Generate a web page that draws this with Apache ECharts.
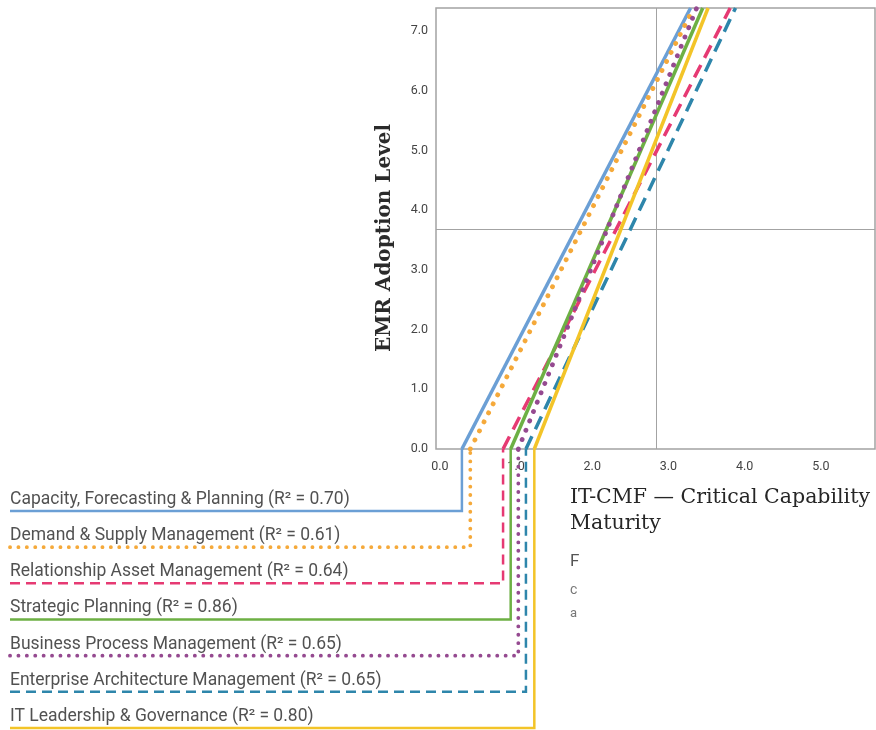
<!DOCTYPE html>
<html>
<head>
<meta charset="utf-8">
<script src="https://cdn.jsdelivr.net/npm/echarts@6/dist/echarts.min.js"></script>
<style>html,body{margin:0;padding:0;background:#fff;}#c{width:876px;height:730px;}</style>
</head>
<body>
<div id="c"></div>
<script>
// ---- data ----
const categories = ['Capacity, Forecasting & Planning','Demand & Supply Management','Relationship Asset Management','Strategic Planning','Business Process Management','Enterprise Architecture Management','IT Leadership & Governance'];
const rSquared = [0.70, 0.61, 0.64, 0.86, 0.65, 0.65, 0.80];
const xAtZero = [0.29, 0.40, 0.83, 0.93, 1.03, 1.13, 1.24];   // x where each fit line meets EMR = 0
const xAtTop  = [3.29, 3.33, 3.81, 3.45, 3.37, 3.88, 3.52];   // x where each fit line meets the top of the plot
const xTicks = [0, 1, 2, 3, 4, 5];
const yTicks = [0, 1, 2, 3, 4, 5, 6, 7];
const refX = 2.84;
const refY = 3.69;

// ---- styles ----
const colors = ['#6b9fd5','#f5a93a','#e63a73','#6db044','#954a90','#2e86ab','#f3c428'];
const kinds  = ['solid','dotted','dashed','solid','dotted','dashed','solid'];

// ---- layout ----
const xMin = -0.05, xMax = 5.71, yMax = 7.39;
const g1 = {left:436, top:8, width:439, height:441};
const g2 = {left:10, top:511, width:865, height:217};
const k = g1.width / (xMax - xMin);
const x2Min = xMin - (g1.left - g2.left) / k;
const rowStep = g2.height / (categories.length - 1);
const rowAtPlotBottom = (g1.top + g1.height - g2.top) / rowStep;

function plotStyle(i){
  const s = {color: colors[i], width: 3.5, cap: 'butt'};
  if (kinds[i] === 'dotted'){ s.type = [0.1, 10]; s.cap = 'round'; s.width = 4.8; }
  if (kinds[i] === 'dashed'){ s.type = [14, 8]; }
  return s;
}
function legStyle(i){
  const s = {color: colors[i], width: 2.5, cap: 'butt', join: 'miter'};
  if (kinds[i] === 'dotted'){ s.type = [0.1, 8.3]; s.cap = 'round'; s.width = 3.8; }
  if (kinds[i] === 'dashed'){ s.type = [10, 6]; }
  return s;
}

const series = [];
categories.forEach((name, i) => {
  series.push({
    type:'line', name: name + ' fit', xAxisIndex:0, yAxisIndex:0, symbol:'none', z:5,
    lineStyle: plotStyle(i), silent:true,
    data: [[xAtZero[i], 0], [xAtTop[i], yMax]]
  });
  series.push({
    type:'line', name: name + ' leg', xAxisIndex:1, yAxisIndex:1, symbol:'none', clip:false, z:4,
    lineStyle: legStyle(i), silent:true,
    data: [[x2Min, i], [xAtZero[i], i], [xAtZero[i], rowAtPlotBottom]]
  });
});
series.push({
  type:'scatter', xAxisIndex:1, yAxisIndex:1, symbolSize:1, itemStyle:{color:'rgba(0,0,0,0)'}, clip:false, silent:true,
  data: categories.map((c, i) => ({value:[x2Min, i], name:c})),
  label:{show:true, position:'top', align:'left', distance:2, color:'#262626', fontFamily:'Roboto', fontSize:17.5,
    formatter: p => p.name + ' (R\u00b2 = ' + rSquared[p.dataIndex].toFixed(2) + ')'}
});
series.push({
  type:'line', xAxisIndex:0, yAxisIndex:0, data:[], silent:true, z:1,
  markLine:{silent:true, symbol:'none', label:{show:false}, lineStyle:{color:'#a3a3a3', width:1, type:'solid'},
    data:[{xAxis:refX},{yAxis:refY}]}
});

const chart = echarts.init(document.getElementById('c'), null, {renderer:'canvas'});
chart.setOption({
  animation:false,
  backgroundColor:'#fff',
  grid:[
    Object.assign({show:true, borderColor:'#a3a3a3', borderWidth:1.5, backgroundColor:'transparent'}, g1),
    g2
  ],
  xAxis:[
    {type:'value', gridIndex:0, min:xMin, max:xMax, axisLine:{show:false}, axisTick:{show:false}, splitLine:{show:false},
      axisLabel:{customValues:xTicks, formatter:v=>v.toFixed(1), margin:11, color:'#444', fontSize:12.5, fontFamily:'Roboto'}},
    {type:'value', gridIndex:1, min:x2Min, max:xMax, show:false}
  ],
  yAxis:[
    {type:'value', gridIndex:0, min:0, max:yMax, axisLine:{show:false}, axisTick:{show:false}, splitLine:{show:false},
      axisLabel:{customValues:yTicks, formatter:v=>v.toFixed(1), margin:8, color:'#444', fontSize:12.5, fontFamily:'Roboto'}},
    {type:'value', gridIndex:1, min:0, max:categories.length-1, inverse:true, show:false}
  ],
  graphic:[
    {type:'text', x:385, y:238, rotation:Math.PI/2, style:{text:'EMR Adoption Level', align:'center', verticalAlign:'middle',
      font:'bold 20px "DejaVu Serif"', fill:'#2b2b2b'}},
    {type:'text', x:570, y:485, style:{text:'IT-CMF \u2014 Critical Capability\nMaturity', lineHeight:26,
      font:'20.5px "DejaVu Serif"', fill:'#262626', verticalAlign:'top'}},
    {type:'text', x:570, y:562, style:{text:'F', font:'17px Roboto', fill:'#555', verticalAlign:'middle'}},
    {type:'text', x:570, y:590, style:{text:'c', font:'14px Roboto', fill:'#777', verticalAlign:'middle'}},
    {type:'text', x:570, y:614, style:{text:'a', font:'13px Roboto', fill:'#777', verticalAlign:'middle'}}
  ],
  series: series
});
</script>
</body>
</html>
